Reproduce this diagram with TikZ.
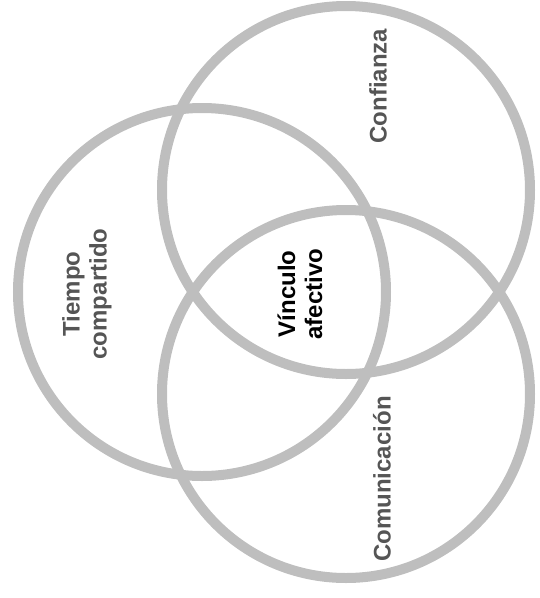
\documentclass[tikz,border=0pt]{standalone}
\usepackage{fontspec}
\setmainfont{Liberation Sans}
\usetikzlibrary{positioning}
\definecolor{ringgray}{RGB}{190,190,190}
\definecolor{labelgray}{RGB}{85,85,85}

\begin{document}
\begin{tikzpicture}[x=1pt, y=-1pt,
  ring/.style={circle, draw=ringgray, line width=10pt, inner sep=0pt,
               minimum size=368pt},
  lbl/.style={rotate=90, font=\fontsize{24}{27}\selectfont\bfseries,
              text=labelgray, align=center, inner sep=0pt},
  core/.style={lbl, text=black},
]
  \useasboundingbox (0,0) rectangle (540,598);
  %% The three rings
  \node[ring] (confianza)    at (346,190) {};
  \node[ring] (tiempo)       at (202,292) {};
  \node[ring] (comunicacion) at (346,394) {};
  %% Labels, read from bottom to top
  \node[lbl]  (lconf) at (378,86)  {Confianza};
  \node[lbl]  (ltiem) at (87,294)  {Tiempo\\compartido};
  \node[lbl]  (lcomu) at (382,479) {Comunicación};
  \node[core] (lvinc) at (300,294) {Vínculo\\afectivo};
\end{tikzpicture}
\end{document}
